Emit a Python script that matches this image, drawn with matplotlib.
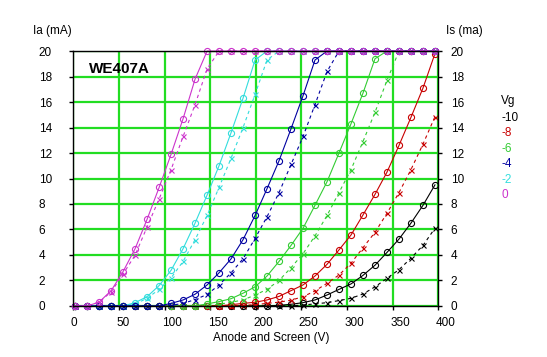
import numpy as np
import matplotlib
matplotlib.use("Agg")
import matplotlib.pyplot as plt
from matplotlib.transforms import ScaledTranslation

plt.rcParams['font.family'] = ['Liberation Sans', 'DejaVu Sans']

# anode/screen voltage of each sample point
volts = [2, 15.2, 28.3, 41.5, 54.6, 67.8, 80.9, 94.1, 107.2, 120.4, 133.5,
         146.7, 159.8, 173, 186.1, 199.3, 212.4, 225.6, 238.7, 251.9, 265,
         278.2, 291.3, 304.5, 317.6, 330.8, 343.9, 357.1, 370.2, 383.4, 396.5]

grid_v = ['-10', '-8', '-6', '-4', '-2', '0']
colours = ['black', '#c80000', '#33cc33', '#0000a0', '#33dddd', '#cc33cc']

# anode current Ia (mA), values above 20 drawn at 20
ia_m10 = [0]*17 + [0.05, 0.13, 0.26, 0.47, 0.86, 1.3, 1.73, 2.4, 3.2, 4.2, 5.25, 6.5, 7.9, 9.5]
ia_m8 = [0]*13 + [0.1, 0.2, 0.29, 0.47, 0.75, 1.2, 1.65, 2.35, 3.27, 4.4, 5.57, 7.14, 8.76, 10.5,
                  12.6, 14.8, 17.1, 19.8]
ia_m6 = [0]*11 + [0.16, 0.34, 0.57, 1.0, 1.5, 2.35, 3.5, 4.75, 6.1, 7.9, 9.75, 12.0, 14.3, 16.7,
                  19.4] + [20]*5
ia_m4 = [0]*8 + [0.2, 0.47, 0.92, 1.65, 2.6, 3.7, 5.2, 7.1, 9.2, 11.4, 13.9, 16.5, 19.3] + [20]*10
ia_m2 = [0]*5 + [0.26, 0.73, 1.6, 2.8, 4.5, 6.5, 8.7, 11.0, 13.6, 16.3, 19.3] + [20]*15
ia_0 = [0, 0, 0.3, 1.2, 2.7, 4.5, 6.8, 9.3, 11.9, 14.7, 17.8] + [20]*20

# screen current Is (mA)
is_m10 = [0]*19 + [0.08, 0.16, 0.26, 0.42, 0.6, 0.94, 1.5, 2.17, 2.85, 3.75, 4.75, 6.1]
is_m8 = [0]*14 + [0.05, 0.1, 0.2, 0.3, 0.45, 0.73, 1.18, 1.78, 2.43, 3.35, 4.57, 5.78, 7.27, 8.9,
                  10.7, 12.7, 14.85]
is_m6 = [0]*12 + [0.13, 0.29, 0.47, 0.86, 1.3, 2.0, 3.0, 4.1, 5.5, 7.1, 8.9, 10.7, 12.9, 15.2,
                  17.7] + [20]*4
is_m4 = [0]*8 + [0.05, 0.2, 0.5, 0.9, 1.65, 2.6, 3.7, 5.3, 7.0, 8.9, 11.1, 13.3, 15.8, 18.4] + [20]*9
is_m2 = [0]*5 + [0.15, 0.6, 1.3, 2.2, 3.5, 5.2, 7.1, 9.3, 11.6, 14.0, 16.6, 19.3] + [20]*14
is_0 = [0, 0, 0.3, 1.1, 2.5, 4.0, 6.2, 8.4, 10.7, 13.3, 15.8, 18.6] + [20]*19

ia_all = [ia_m10, ia_m8, ia_m6, ia_m4, ia_m2, ia_0]
is_all = [is_m10, is_m8, is_m6, is_m4, is_m2, is_0]

fig = plt.figure(figsize=(5.47, 3.57), dpi=100)
ax = fig.add_axes([0.134, 0.143, 0.667, 0.714])

ax.set_xlim(0, 400)
ax.set_ylim(0, 20)
ax.set_xticks(np.arange(0, 401, 50))
ax.set_yticks(np.arange(0, 21, 2))
ax.grid(True, color='#22dd22', lw=1.6)
ax.set_axisbelow(True)

# draw order: blue last so the saturated row looks like the original
order = [0, 1, 2, 4, 3, 5]
for i in order:
    c = colours[i]
    ax.plot(volts, is_all[i], color=c, lw=0.8, ls=(0, (3, 3)), marker='x', ms=3.6,
            mew=0.8, clip_on=False)
    ax.plot(volts, ia_all[i], color=c, lw=0.8, marker='o', ms=4.4, mfc='none',
            mew=0.8, clip_on=False)

for s in ax.spines.values():
    s.set_linewidth(1.0)
ax.tick_params(axis='both', labelsize=8.5, length=3, width=1, direction='out')
ax.tick_params(axis='y', left=True, right=True, labelleft=True, labelright=True, pad=22)

# left labels are left aligned, right labels sit close to the axis
for t in ax.yaxis.get_major_ticks():
    t.label1.set_horizontalalignment('left')
    t.label2.set_horizontalalignment('left')
    t.label2.set_transform(t.label2.get_transform() +
                           ScaledTranslation(-0.22, 0, fig.dpi_scale_trans))
ax.tick_params(axis='x', pad=5)
for t in ax.xaxis.get_major_ticks():
    t.label1.set_horizontalalignment('left')
    t.label1.set_transform(t.label1.get_transform() +
                           ScaledTranslation(-0.025, 0, fig.dpi_scale_trans))

ax.text(0.044, 0.93, 'WE407A', transform=ax.transAxes, fontsize=11,
        fontweight='bold', va='center', ha='left')

fig.text(33 / 547, 1 - 31 / 357, 'Ia (mA)', fontsize=8.5, va='center', ha='left')
fig.text(446 / 547, 1 - 31 / 357, 'Is (ma)', fontsize=8.5, va='center', ha='left')
fig.text(271.5 / 547, 1 - 338 / 357, 'Anode and Screen (V)', fontsize=8.5,
         va='center', ha='center')

fig.text(501 / 547, 1 - 101 / 357, 'Vg', fontsize=8.5, va='center', ha='left')
for i, (v, c) in enumerate(zip(grid_v, colours)):
    fig.text(501 / 547, 1 - (118 + 15.4 * i) / 357, v, color=c, fontsize=8.5,
             va='center', ha='left')

fig.savefig('out.png', dpi=100)
